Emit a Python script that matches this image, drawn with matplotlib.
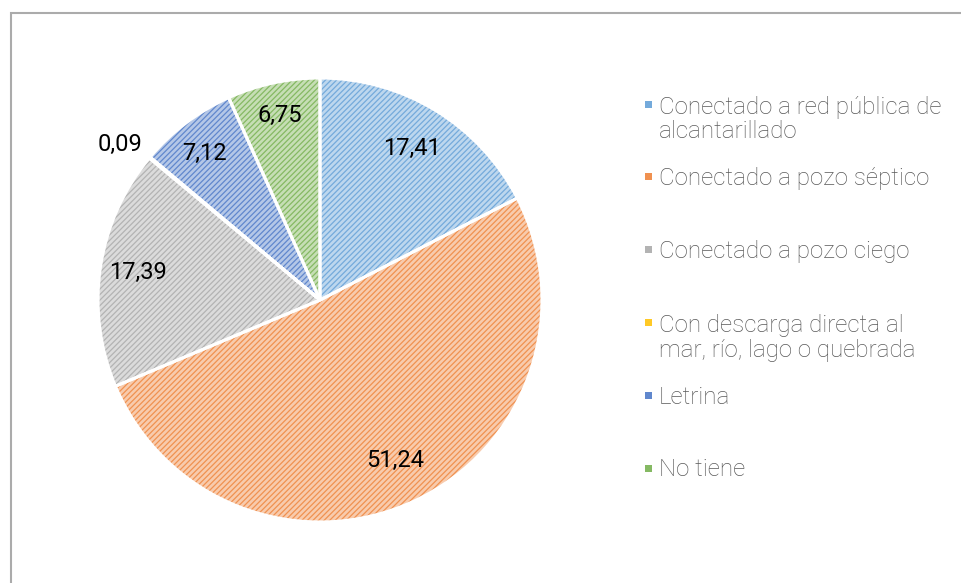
import matplotlib.pyplot as plt
import matplotlib.colors as mcolors
from matplotlib.patches import Rectangle
import numpy as np

plt.rcParams['font.family'] = ['Roboto', 'DejaVu Sans']
plt.rcParams['hatch.linewidth'] = 0.9

categories = ['Conectado a red pública de\nalcantarillado',
              'Conectado a pozo séptico',
              'Conectado a pozo ciego',
              'Con descarga directa al\nmar, río, lago o quebrada',
              'Letrina',
              'No tiene']
values = [17.41, 51.24, 17.39, 0.09, 7.12, 6.75]
value_labels = ['17,41', '51,24', '17,39', '0,09', '7,12', '6,75']
colors = ['#5B9BD5', '#ED7D31', '#A5A5A5', '#FFC000', '#4472C4', '#70AD47']

# how far from centre each value label sits (fraction of radius)
label_r = [0.80, 0.80, 0.83, 1.14, 0.84, 0.85]
label_dang = [0, 0, 0, 2.0, 1.0, 0]


def lighten(c, amt):
    rgb = np.array(mcolors.to_rgb(c))
    return tuple(rgb + (1 - rgb) * amt)


W, H = 962, 583
fig = plt.figure(figsize=(W / 100, H / 100), dpi=100)

# outer frame of the chart area
fig.patches.append(Rectangle((11 / W, -0.1), 1.0, (H - 13) / H + 0.1,
                             transform=fig.transFigure, fill=False,
                             edgecolor='#ABABAB', linewidth=1.5))

cx, cy, r = 320, 300, 222
ax = fig.add_axes([(cx - r) / W, (H - cy - r) / H, 2 * r / W, 2 * r / H])

# hatched fill layer
wedges, _ = ax.pie(values, colors=[lighten(c, 0.6) for c in colors],
                   startangle=90, counterclock=False,
                   wedgeprops=dict(linewidth=0))
for w, c in zip(wedges, colors):
    w.set_hatch('//////')
    w.set_edgecolor(lighten(c, 0.15))
    w.set_linewidth(0)

# white separators on top
ax.pie(values, colors=['none'] * len(values), startangle=90, counterclock=False,
       wedgeprops=dict(linewidth=2.2, edgecolor='white', fill=False))

for w, lab, rr, da in zip(wedges, value_labels, label_r, label_dang):
    ang = np.deg2rad((w.theta1 + w.theta2) / 2 + da)
    ax.text(rr * np.cos(ang), rr * np.sin(ang), lab, ha='center', va='center',
            fontsize=17, color='black')

ax.set_xlim(-1, 1)
ax.set_ylim(-1, 1)
ax.set_aspect('equal')
ax.axis('off')

# legend, entries evenly spaced down the right side
y0, step, line_h = 104, 72.8, 26
for i, (cat, c) in enumerate(zip(categories, colors)):
    yc = y0 + i * step
    fig.patches.append(Rectangle((645 / W, 1 - (yc + 3.5) / H), 7 / W, 7 / H,
                                 transform=fig.transFigure,
                                 facecolor=lighten(c, 0.15), edgecolor='none'))
    extra = cat.count('\n') * line_h   # baseline refers to the last line
    fig.text(659 / W, 1 - (yc + 8.5 + extra) / H, cat, ha='left', va='baseline',
             fontsize=17.4, color='#595959', fontweight='light', linespacing=1.1)

fig.savefig('out.png', dpi=100)
